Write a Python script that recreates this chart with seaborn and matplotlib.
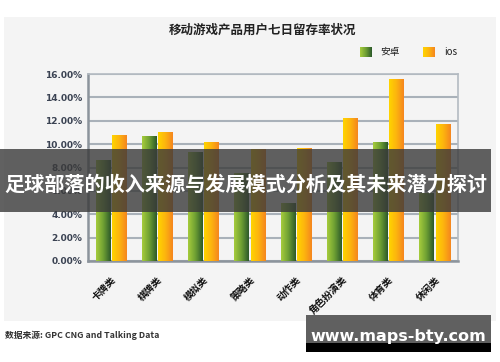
import numpy as np
import pandas as pd
import matplotlib
matplotlib.use("Agg")
import matplotlib.pyplot as plt
from matplotlib.patches import Rectangle
from matplotlib.colors import LinearSegmentedColormap
from matplotlib.ticker import FixedLocator
from matplotlib.transforms import ScaledTranslation
import seaborn as sns

# data (7-day retention, %)
categories = ["卡牌类", "棋牌类", "模拟类", "策略类", "动作类", "角色扮演类", "体育类", "休闲类"]
android = [8.6, 10.7, 9.3, 7.5, 5.0, 8.5, 10.2, 5.8]
ios = [10.8, 11.0, 10.2, 9.6, 9.7, 12.2, 15.6, 11.7]
series = ["安卓", "ios"]
yticks = [0, 2, 4, 6, 8, 10, 12, 14, 16]

df = pd.DataFrame({
    "类别": categories * 2,
    "系统": [series[0]] * len(categories) + [series[1]] * len(categories),
    "留存率": android + ios,
})

sns.set_theme(style="white")
plt.rcParams["font.family"] = ["Noto Sans CJK SC", "DejaVu Sans"]

W, H = 500, 362
fig = plt.figure(figsize=(5, 3.62), dpi=100)
fig.patch.set_facecolor("white")


def fx(px):
    return px / W


def fy(py):
    return 1 - py / H


panel_bg = "#f4f4f4"
fig.add_artist(Rectangle((fx(4), fy(321)), fx(492), 304 / H, transform=fig.transFigure,
                         facecolor=panel_bg, edgecolor="none", zorder=-1))

ax = fig.add_axes([fx(88), fy(261), fx(370), 187 / H])
ax.set_facecolor(panel_bg)

green_cmap = LinearSegmentedColormap.from_list("g", ["#a6cc3c", "#6e9f33", "#2c5a2a"])
orange_cmap = LinearSegmentedColormap.from_list("o", ["#ffd400", "#fdb40e", "#f5861f"])

sns.barplot(data=df, x="类别", y="留存率", hue="系统", order=categories, hue_order=series,
            palette=["#6e9f33", "#fdb40e"], width=0.7, gap=0.1, legend=False, ax=ax, zorder=3)

# gradient fill on every bar
grad = np.linspace(0, 1, 64).reshape(1, -1)
n = len(categories)
for i, bar in enumerate(ax.patches):
    x0, w, h = bar.get_x(), bar.get_width(), bar.get_height()
    cmap = green_cmap if i < n else orange_cmap
    im = ax.imshow(grad, extent=[x0, x0 + w, 0, h], aspect="auto", cmap=cmap, zorder=3)
    im.set_clip_path(bar)
    bar.set_facecolor("none")
    bar.set_edgecolor("none")

ax.set_xlim(-0.5, n - 0.5)
ax.set_ylim(0, 16)
ax.set_yticks(yticks)
ax.set_yticklabels([f"{v:.2f}%" for v in yticks], fontsize=6.5, fontweight="bold",
                   color="#3a4252", family=["DejaVu Sans"])
ax.set_xticks(range(n))
ax.set_xticklabels(categories, rotation=45, ha="right", rotation_mode="anchor",
                   fontsize=7, fontweight="bold", color="#111111")
shift = ScaledTranslation(8 / 100, 0, fig.dpi_scale_trans)
for lbl in ax.get_xticklabels():
    lbl.set_transform(lbl.get_transform() + shift)
ax.xaxis.set_minor_locator(FixedLocator([i + 0.5 for i in range(n - 1)]))
ax.tick_params(axis="x", which="major", length=0, pad=10)
ax.tick_params(axis="x", which="minor", length=9, width=1.5, direction="inout", color="#8c949c")
ax.tick_params(axis="y", length=0, pad=4)
ax.set_xlabel("")
ax.set_ylabel("")
ax.yaxis.grid(True, color="#a9b1b9", linewidth=1.5, zorder=1)
ax.set_axisbelow(True)
for side in ["left", "bottom"]:
    ax.spines[side].set_color("#8c949c")
    ax.spines[side].set_linewidth(1.8)
for side in ["top", "right"]:
    ax.spines[side].set_color("#b4bbc2")
    ax.spines[side].set_linewidth(1.2)

# title and legend
fig.text(fx(263), fy(30), "移动游戏产品用户七日留存率状况", ha="center", va="center",
         fontsize=9, fontweight="bold", color="#222222")
for (x0, cmap, label, tx) in [(360, green_cmap, series[0], 380), (423, orange_cmap, series[1], 444)]:
    lax = fig.add_axes([fx(x0), fy(57), fx(12), 10 / H])
    lax.imshow(grad, aspect="auto", cmap=cmap)
    lax.axis("off")
    fig.text(fx(tx), fy(52), label, ha="left", va="center", fontsize=7, color="#222222",
             family=["Noto Sans CJK SC", "DejaVu Sans"])

# source note
fig.text(fx(5), fy(335), "数据来源: GPC CNG and Talking Data", ha="left", va="center",
         fontsize=6.3, fontweight="bold", color="#333333")

# overlay banner
fig.add_artist(Rectangle((0, fy(212)), fx(491), 63 / H, transform=fig.transFigure,
                         facecolor="#3a3a3a", alpha=0.8, edgecolor="none", zorder=10))
fig.text(fx(246), fy(184), "足球部落的收入来源与发展模式分析及其未来潜力探讨", ha="center", va="center",
         fontsize=14.5, fontweight="bold", color="white", zorder=11)

# watermark box
fig.add_artist(Rectangle((fx(306), fy(352)), fx(185), 37 / H, transform=fig.transFigure,
                         facecolor="#000000", edgecolor="none", zorder=10))
fig.add_artist(Rectangle((fx(306), fy(343)), fx(185), 28 / H, transform=fig.transFigure,
                         facecolor="#606060", edgecolor="none", zorder=11))
fig.text(fx(398), fy(337), "www.maps-bty.com", ha="center", va="center",
         fontsize=11.5, fontweight="bold", color="white", zorder=12, family=["DejaVu Sans"])

fig.savefig("out.png", dpi=100, facecolor="white")
